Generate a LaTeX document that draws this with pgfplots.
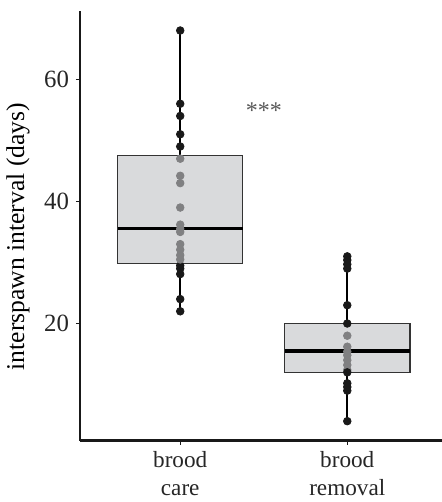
\documentclass[border=0pt]{standalone}
\usepackage{pgfplots}
\pgfplotsset{compat=1.18}
\usetikzlibrary{calc}
\usepackage{fontspec}
\setmainfont{Liberation Serif}

\definecolor{boxfill}{RGB}{217,218,220}
\definecolor{ptin}{RGB}{128,128,130}

\begin{document}
\begin{tikzpicture}[font=\fontsize{11.6}{13.7}\selectfont]
\begin{axis}[
    width=183.75pt, height=214.85pt, scale only axis,
    xmin=0.4, xmax=2.6, ymin=0.8, ymax=71.2,
    axis lines*=left,
    axis line style={line width=1.3pt, black!90},
    xtick={1,2}, xticklabels={brood\\care, brood\\removal},
    xticklabel style={align=center, text=black!85},
    ytick={20,40,60},
    yticklabel style={text=black!85, font=\fontsize{12.4}{14}\selectfont},
    tick align=outside, major tick length=2pt,
    tick style={line width=0.6pt, black!90},
    /pgf/number format/assume math mode=true,
    ylabel={interspawn interval (days)},
    ylabel style={at={(axis description cs:-0.169,0.475)}, anchor=center, text=black,
        font=\fontsize{12.8}{14}\selectfont},
    clip=false,
]
\coordinate (O) at (rel axis cs:0,0);

% whiskers
\addplot[black, line width=1pt] coordinates {(1,47.5) (1,68)};
\addplot[black, line width=1pt] coordinates {(1,22) (1,29.8)};
\addplot[black, line width=1pt] coordinates {(2,20) (2,31)};
\addplot[black, line width=1pt] coordinates {(2,4) (2,12)};

% boxes (Q1..Q3)
\addplot[draw=black!80, line width=0.6pt, fill=boxfill]
  coordinates {(0.625,29.8) (1.375,29.8) (1.375,47.5) (0.625,47.5)} -- cycle;
\addplot[draw=black!80, line width=0.6pt, fill=boxfill]
  coordinates {(1.625,12) (2.375,12) (2.375,20) (1.625,20)} -- cycle;

% brood care: outside the box / inside the box
\addplot[only marks, mark=*, mark size=1.9pt, black!90] coordinates {
  (1,68) (1,56) (1,54) (1,51) (1,49) (1,29.5) (1,29) (1,28.1) (1,24) (1,22)
};
\addplot[only marks, mark=*, mark size=1.9pt, ptin] coordinates {
  (1,47) (1,44.2) (1,43) (1,39) (1,36.2) (1,35.5) (1,35) (1,33)
  (1,32.1) (1,31.2) (1,30.5)
};
% brood removal
\addplot[only marks, mark=*, mark size=1.9pt, ptin] coordinates {
  (2,18) (2,16.2) (2,15.4) (2,14.8) (2,14) (2,13.2) (2,12.4)
};
\addplot[only marks, mark=*, mark size=1.9pt, black!90] coordinates {
  (2,31) (2,30.4) (2,29.7) (2,29) (2,23) (2,20) (2,12) (2,10.2)
  (2,9.6) (2,9) (2,4)
};

% medians
\addplot[black, line width=1.6pt] coordinates {(0.625,35.5) (1.375,35.5)};
\addplot[black, line width=1.6pt] coordinates {(1.625,15.5) (2.375,15.5)};

\node[text=black!65, font=\fontsize{12}{14}\selectfont] at (axis cs:1.5,54.8) {***};
\end{axis}
\pgfresetboundingbox
\path[use as bounding box] ($(O)+(-40pt,-30.65pt)$) rectangle ($(O)+(180.5pt,220.35pt)$);
\end{tikzpicture}
\end{document}
